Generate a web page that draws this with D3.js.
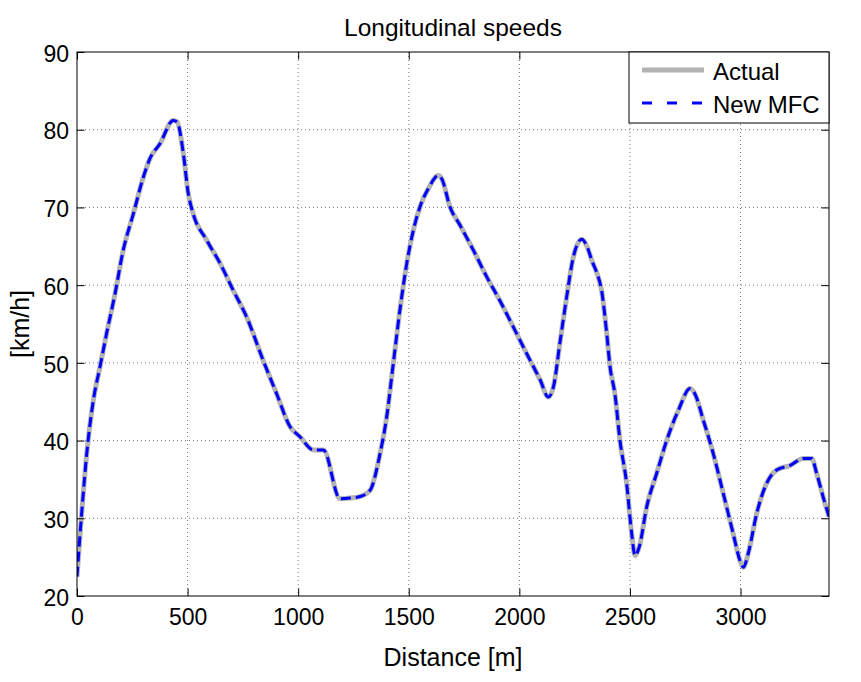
<!DOCTYPE html>
<html>
<head>
<meta charset="utf-8">
<script src="https://cdn.jsdelivr.net/npm/d3@7"></script>
<style>
  body { margin: 0; background: #fff; }
  svg text { font-family: "Liberation Sans", Arial, Helvetica, sans-serif; fill: #000; }
  .grid line { stroke: #555; stroke-width: 0.8; stroke-dasharray: 1,3; }
  .axis path { display: none; }
  .axis line { stroke: #000; }
</style>
</head>
<body>
<div id="chart"></div>
<script>
// distances [m]
const distance = [0, 21, 44, 74, 104, 134, 172, 209, 255, 300, 330, 375, 435, 453, 481, 503, 523,
  586, 647, 707, 767, 842, 903, 963, 1008, 1068, 1114, 1189, 1235, 1280, 1325, 1370, 1400, 1430,
  1460, 1491, 1521, 1551, 1588, 1634, 1649, 1686, 1732, 1792, 1852, 1912, 1973, 2033, 2094, 2131,
  2154, 2184, 2214, 2244, 2282, 2304, 2330, 2350, 2372, 2395, 2410, 2432, 2455, 2485, 2508, 2523,
  2542, 2576, 2621, 2666, 2719, 2772, 2794, 2832, 2877, 2922, 2967, 2997, 3013, 3035, 3073, 3118,
  3163, 3224, 3284, 3322, 3344, 3374, 3400];

// speeds [km/h]
const actualSpeed = [22.5, 30.6, 38.3, 45.2, 49.5, 53.8, 58.9, 64.5, 69.2, 73.9, 76.3, 78.2, 81.2, 81.0, 76.9, 71.8, 69.4,
  65.8, 62.8, 59.3, 55.9, 50.3, 46.0, 41.8, 40.5, 38.8, 38.8, 32.5, 32.6, 32.8, 33.6, 38.3, 43.0, 49.9,
  56.8, 62.8, 67.1, 70.1, 72.4, 74.1, 73.7, 70.1, 67.7, 64.5, 61.1, 58.0, 54.6, 51.2, 47.8, 45.6,
  46.9, 52.7, 58.5, 63.6, 65.9, 65.1, 63.0, 61.6, 59.3, 53.8, 49.5, 46.0, 40.0, 34.5, 28.0, 25.2,
  26.3, 31.5, 35.8, 40.0, 43.9, 46.7, 46.0, 42.6, 38.3, 33.2, 28.0, 24.6, 23.7, 25.5, 30.6, 34.5,
  36.2, 36.8, 37.7, 37.7, 35.8, 32.7, 30.2];

const mfcSpeed = [22.5, 30.6, 38.3, 45.2, 49.5, 53.8, 58.9, 64.5, 69.2, 73.9, 76.3, 78.2, 81.2, 81.0, 76.9, 71.8, 69.4,
  65.8, 62.8, 59.3, 55.9, 50.3, 46.0, 41.8, 40.5, 38.8, 38.8, 32.5, 32.6, 32.8, 33.6, 38.3, 43.0, 49.9,
  56.8, 62.8, 67.1, 70.1, 72.4, 74.1, 73.7, 70.1, 67.7, 64.5, 61.1, 58.0, 54.6, 51.2, 47.8, 45.6,
  46.9, 52.7, 58.5, 63.6, 65.9, 65.1, 63.0, 61.6, 59.3, 53.8, 49.5, 46.0, 40.0, 34.5, 28.0, 25.2,
  26.3, 31.5, 35.8, 40.0, 43.9, 46.7, 46.0, 42.6, 38.3, 33.2, 28.0, 24.6, 23.7, 25.5, 30.6, 34.5,
  36.2, 36.8, 37.7, 37.7, 35.8, 32.7, 30.2];

const xTicks = [0, 500, 1000, 1500, 2000, 2500, 3000];
const yTicks = [20, 30, 40, 50, 60, 70, 80, 90];
const seriesNames = ["Actual", "New MFC"];

const W = 861, H = 682;
const margin = {top: 52, right: 32, bottom: 86, left: 77};
const width = W - margin.left - margin.right;
const height = H - margin.top - margin.bottom;

const x = d3.scaleLinear().domain([0, 3400]).range([0, width]);
const y = d3.scaleLinear().domain([20, 90]).range([height, 0]);

const svg = d3.select("#chart").append("svg")
    .attr("width", W)
    .attr("height", H);

const g = svg.append("g")
    .attr("transform", "translate(" + margin.left + "," + margin.top + ")");

// grille pointillee
const grid = g.append("g").attr("class", "grid");
grid.selectAll(".gx").data(xTicks.slice(1)).enter()
    .append("line")
    .attr("x1", d => x(d)).attr("x2", d => x(d))
    .attr("y1", 0).attr("y2", height);
grid.selectAll(".gy").data(yTicks.slice(1, -1)).enter()
    .append("line")
    .attr("x1", 0).attr("x2", width)
    .attr("y1", d => y(d)).attr("y2", d => y(d));

// courbes
g.append("clipPath").attr("id", "clip")
  .append("rect").attr("width", width).attr("height", height);

const line = d3.line()
    .x(d => x(d[0]))
    .y(d => y(d[1]))
    .curve(d3.curveMonotoneX);

g.append("path")
    .datum(d3.zip(distance, actualSpeed))
    .attr("clip-path", "url(#clip)")
    .attr("fill", "none")
    .attr("stroke", "#b3b3b3")
    .attr("stroke-width", 5)
    .attr("stroke-linejoin", "round")
    .attr("d", line);

g.append("path")
    .datum(d3.zip(distance, mfcSpeed))
    .attr("clip-path", "url(#clip)")
    .attr("fill", "none")
    .attr("stroke", "#0000ff")
    .attr("stroke-width", 3)
    .attr("stroke-dasharray", "10,5")
    .attr("d", line);

// axes, ticks vers l'interieur
const tick = 7.5;
const fmt = d3.format("d");
g.append("g").attr("class", "axis")
    .attr("transform", "translate(0," + height + ")")
    .call(d3.axisBottom(x).tickValues(xTicks).tickFormat(fmt).tickSizeInner(-tick).tickSizeOuter(0).tickPadding(12.5))
    .call(a => a.selectAll("text").style("font-size", "23px"));
g.append("g").attr("class", "axis")
    .call(d3.axisTop(x).tickValues(xTicks).tickSizeInner(-tick).tickSizeOuter(0).tickFormat(""));
g.append("g").attr("class", "axis")
    .call(d3.axisLeft(y).tickValues(yTicks).tickFormat(fmt).tickSizeInner(-tick).tickSizeOuter(0).tickPadding(8))
    .call(a => a.selectAll("text").style("font-size", "23px").attr("dy", "0.4em"));
g.append("g").attr("class", "axis")
    .attr("transform", "translate(" + width + ",0)")
    .call(d3.axisRight(y).tickValues(yTicks).tickSizeInner(-tick).tickSizeOuter(0).tickFormat(""));

g.append("rect")
    .attr("width", width).attr("height", height)
    .attr("fill", "none").attr("stroke", "#000").attr("stroke-width", 1);

// titres
svg.append("text")
    .attr("x", margin.left + width / 2).attr("y", 36)
    .attr("text-anchor", "middle")
    .style("font-size", "24.5px")
    .text("Longitudinal speeds");

svg.append("text")
    .attr("x", margin.left + width / 2).attr("y", 666)
    .attr("text-anchor", "middle")
    .style("font-size", "25px")
    .text("Distance [m]");

svg.append("text")
    .attr("transform", "translate(29," + (margin.top + height / 2) + ") rotate(-90)")
    .attr("text-anchor", "middle")
    .style("font-size", "25px")
    .text("[km/h]");

// legende
const leg = g.append("g").attr("transform", "translate(" + (width - 200) + ",0)");
leg.append("rect")
    .attr("width", 200).attr("height", 71)
    .attr("fill", "#fff").attr("stroke", "#000").attr("stroke-width", 1);
leg.append("line")
    .attr("x1", 13).attr("x2", 75).attr("y1", 18).attr("y2", 18)
    .attr("stroke", "#b3b3b3").attr("stroke-width", 5);
leg.append("line")
    .attr("x1", 13).attr("x2", 73).attr("y1", 51).attr("y2", 51)
    .attr("stroke", "#0000ff").attr("stroke-width", 3).attr("stroke-dasharray", "10,15");
leg.selectAll(".lt").data(seriesNames).enter()
    .append("text")
    .attr("x", 84)
    .attr("y", (d, i) => 28 + i * 33)
    .style("font-size", "24px")
    .text(d => d);
</script>
</body>
</html>
